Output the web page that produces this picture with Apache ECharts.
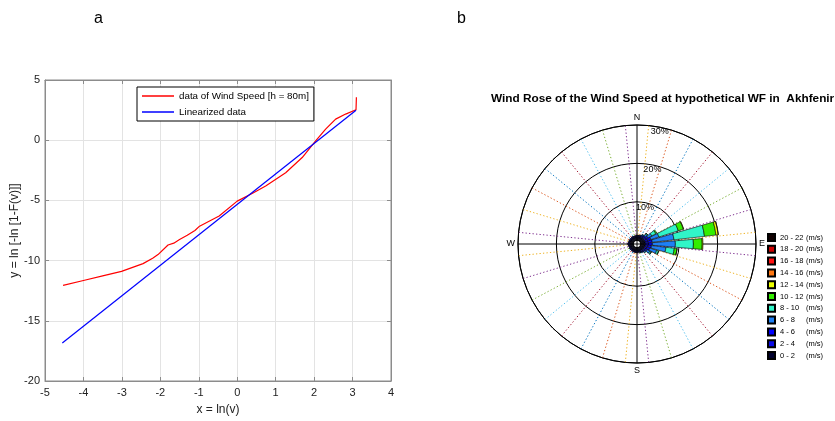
<!DOCTYPE html>
<html><head><meta charset="utf-8">
<script src="https://cdn.jsdelivr.net/npm/echarts@6/dist/echarts.min.js"></script>
<style>html,body{margin:0;padding:0;background:#fff}#c{width:835px;height:421px}</style>
</head><body><div id="c"></div>
<script>
// ---------- Panel a data ----------
const redX = [-4.53, -4.0, -3.5, -3.01, -2.45, -2.2, -2.06, -1.8, -1.65, -1.5, -1.3, -1.1, -0.98, -0.47, 0.0, 0.4, 0.74, 1.26, 1.69, 2.04, 2.3, 2.56, 2.82, 3.09, 3.1];
const redY = [-12.06, -11.65, -11.27, -10.9, -10.25, -9.8, -9.5, -8.7, -8.55, -8.25, -7.9, -7.5, -7.14, -6.3, -5.06, -4.4, -3.8, -2.7, -1.44, -0.05, 0.92, 1.75, 2.17, 2.53, 3.56];
const blueX = [-4.55, 3.09];
const blueY = [-16.84, 2.49];
const lineNames = ['data of Wind Speed [h = 80m]', 'Linearized data'];

// ---------- Panel b data ----------
const directions = ['E','EbN','ENE','NEbE','NE','NEbN','NNE','NbE','N','NbW','NNW','NWbN','NW','NWbW','WNW','WbN',
                    'W','WbS','WSW','SWbW','SW','SWbS','SSW','SbW','S','SbE','SSE','SEbS','SE','SEbE','ESE','EbS'];
const speedBins = ['0 - 2','2 - 4','4 - 6','6 - 8','8 - 10','10 - 12','12 - 14','14 - 16','16 - 18','18 - 20','20 - 22'];
const f0_2   = [1.2,1.2,1.2,1.1,1.1,1.05,1.0,1.0,1.0,0.95,0.95,1.0,1.0,0.95,1.0,1.0,1.05,1.0,0.95,1.0,1.0,0.95,1.0,1.0,1.0,0.95,1.0,1.0,1.05,1.1,1.1,1.2];
const f2_4   = [0.8,0.8,0.7,0.6,0.4,0.3,0.25,0.2,0.2,0.2,0.2,0.2,0.2,0.2,0.2,0.2,0.25,0.2,0.2,0.2,0.2,0.2,0.2,0.2,0.2,0.2,0.25,0.3,0.35,0.45,0.6,0.7];
const f4_6   = [1.0,1.0,0.9,0.6,0.4,0.25,0.1,0.05,0.05,0.05,0.05,0.05,0.05,0.05,0.05,0.05,0.1,0.05,0.05,0.05,0.05,0.05,0.05,0.05,0.05,0.05,0.1,0.2,0.3,0.5,0.8,0.9];
const f6_8   = [6.0,5.7,2.2,1.1,0.45,0.2,0.1,0.05,0,0,0,0,0,0,0,0,0,0,0,0,0,0,0,0,0,0,0.05,0.1,0.25,0.8,1.9,3.8];
const f8_10  = [4.7,8.0,5.3,1.2,0.3,0.1,0,0,0,0,0,0,0,0,0,0,0,0,0,0,0,0,0,0,0,0,0,0,0.15,0.4,0.5,2.2];
const f10_12 = [2.3,3.0,1.4,0.3,0.05,0,0,0,0,0,0,0,0,0,0,0,0,0,0,0,0,0,0,0,0,0,0,0,0,0.05,0.1,0.7];
const f12_14 = [0.2,0.6,0.1,0,0,0,0,0,0,0,0,0,0,0,0,0,0,0,0,0,0,0,0,0,0,0,0,0,0,0,0,0.05];
const f14_16 = [0,0.05,0,0,0,0,0,0,0,0,0,0,0,0,0,0,0,0,0,0,0,0,0,0,0,0,0,0,0,0,0,0];
const f16_18 = new Array(32).fill(0);
const f18_20 = new Array(32).fill(0);
const f20_22 = new Array(32).fill(0);
const freqByBin = [f0_2, f2_4, f4_6, f6_8, f8_10, f10_12, f12_14, f14_16, f16_18, f18_20, f20_22];
const radiusTicks = [0, 10, 20, 30];
const compassLabels = {0: 'E', 90: 'N', 180: 'W', 270: 'S'};

// ---------- styles ----------
const binColors = ['#00002e','#0a0ae6','#0000ff','#1e80f5','#30f5c8','#33ee00','#eeff00','#ff7711','#ff1111','#cc0000','#110000'];
const matlabColors = ['#0072BD','#D95319','#EDB120','#7E2F8E','#77AC30','#4DBEEE','#A2142F'];
const dotColors = [];
for (let i = 0; i < 32; i++) {
  const j = ((i - 1) % 16 + 16) % 16 + 1;
  dotColors.push(matlabColors[(j - 1 + 2) % 7]);
}
const FONT = 'Liberation Sans, Arial, sans-serif';
const CX = 637, CY = 244, R0 = 3.8, R1 = 119;
const AX = '#8c8c8c';

const barSeries = speedBins.map((name, k) => ({
  name: name,
  type: 'bar',
  coordinateSystem: 'polar',
  polarIndex: 0,
  stack: 'rose',
  barCategoryGap: '15%',
  data: freqByBin[k].map(v => v > 0 ? v : null),
  itemStyle: {color: binColors[k], borderColor: '#000', borderWidth: 0.6},
  emphasis: {disabled: true},
  z: 3
}));

const chart = echarts.init(document.getElementById('c'), null, {renderer: 'canvas'});
chart.setOption({
  animation: false,
  textStyle: {fontFamily: FONT},
  title: [
    {text: 'a', left: 89, top: 6, textStyle: {fontSize: 16, fontWeight: 'normal', color: '#000', fontFamily: FONT}},
    {text: 'b', left: 452, top: 6, textStyle: {fontSize: 16, fontWeight: 'normal', color: '#000', fontFamily: FONT}},
    {text: 'Wind Rose of the Wind Speed at hypothetical WF in  Akhfenir', left: 486, top: 88,
     textStyle: {fontSize: 11.8, fontWeight: 'bold', color: '#000', fontFamily: FONT}}
  ],
  legend: [
    {
      data: lineNames, orient: 'vertical', left: 137, top: 87,
      borderColor: '#000', borderWidth: 1, backgroundColor: '#fff',
      padding: [3, 5, 3, 5], itemWidth: 32, itemHeight: 1.5, itemGap: 4, icon: 'rect',
      textStyle: {fontSize: 9.8, color: '#000', fontFamily: FONT, lineHeight: 12},
      selectedMode: false
    },
    {
      data: speedBins.slice().reverse(), orient: 'vertical', left: 767, top: 233, padding: 0,
      itemWidth: 7, itemHeight: 7, itemGap: 2.8, icon: 'rect',
      formatter: n => '{a|' + n + '}{b|(m/s)}',
      textStyle: {fontSize: 7.5, color: '#000', fontFamily: FONT, lineHeight: 8,
        rich: {a: {width: 26, fontSize: 7.5, lineHeight: 8, fontFamily: FONT}, b: {fontSize: 7.5, lineHeight: 8, fontFamily: FONT}}},
      selectedMode: false
    }
  ],
  grid: {left: 45, right: 444, top: 80, bottom: 40, show: true, borderColor: AX, borderWidth: 1, backgroundColor: '#fff'},
  xAxis: [
    {type: 'value', gridIndex: 0, min: -5, max: 4, interval: 1, position: 'bottom',
     name: 'x = ln(v)', nameLocation: 'middle', nameGap: 23,
     nameTextStyle: {fontSize: 12, color: '#222', fontFamily: FONT},
     axisLine: {show: true, onZero: false, lineStyle: {color: AX}},
     axisTick: {inside: true, length: 4, lineStyle: {color: AX}},
     axisLabel: {fontSize: 11, color: '#222', margin: 6, fontFamily: FONT},
     splitLine: {show: true, lineStyle: {color: '#e3e3e3'}}},
    {type: 'value', gridIndex: 0, min: -5, max: 4, interval: 1, position: 'top',
     axisLine: {show: true, onZero: false, lineStyle: {color: AX}},
     axisTick: {inside: true, length: 4, lineStyle: {color: AX}},
     axisLabel: {show: false}, splitLine: {show: false}}
  ],
  yAxis: [
    {type: 'value', gridIndex: 0, min: -20, max: 5, interval: 5, position: 'left',
     name: 'y = ln [-ln [1-F(v)]]', nameLocation: 'middle', nameGap: 23,
     nameTextStyle: {fontSize: 12, color: '#222', fontFamily: FONT},
     axisLine: {show: true, onZero: false, lineStyle: {color: AX}},
     axisTick: {inside: true, length: 4, lineStyle: {color: AX}},
     axisLabel: {fontSize: 11, color: '#222', margin: 5, fontFamily: FONT},
     splitLine: {show: true, lineStyle: {color: '#e3e3e3'}}},
    {type: 'value', gridIndex: 0, min: -20, max: 5, interval: 5, position: 'right',
     axisLine: {show: true, onZero: false, lineStyle: {color: AX}},
     axisTick: {inside: true, length: 4, lineStyle: {color: AX}},
     axisLabel: {show: false}, splitLine: {show: false}}
  ],
  polar: [
    {center: [CX, CY], radius: [R0, R1]},
    {center: [CX, CY], radius: [0, R1]},
    {center: [CX, CY], radius: [R0, R1]}
  ],
  angleAxis: [
    {polarIndex: 0, type: 'category', data: directions, startAngle: 354.375, clockwise: false, boundaryGap: true,
     axisLine: {show: false}, axisTick: {show: false, interval: 0}, axisLabel: {show: false, interval: 0},
     splitLine: {show: true, interval: 0, lineStyle: {color: dotColors, width: 1, type: [1.3, 2.2]}}},
    {polarIndex: 1, type: 'value', min: 0, max: 360, interval: 90, startAngle: 0, clockwise: false,
     axisLine: {show: true, lineStyle: {color: '#000', width: 1}}, axisTick: {show: false},
     axisLabel: {show: true, margin: 3, fontSize: 9, color: '#000', fontFamily: FONT,
                 formatter: v => compassLabels[v] !== undefined ? compassLabels[v] : ''},
     splitLine: {show: true, lineStyle: {color: '#000', width: 1, type: 'solid'}}},
    {polarIndex: 2, type: 'value', min: 0, max: 360, startAngle: 79, clockwise: false, show: false}
  ],
  radiusAxis: [
    {polarIndex: 0, type: 'value', min: radiusTicks[0], max: radiusTicks[radiusTicks.length - 1], interval: 10,
     axisLine: {show: false}, axisTick: {show: false}, axisLabel: {show: false},
     splitLine: {show: true, lineStyle: {color: '#000', width: 1, type: 'solid'}}},
    {polarIndex: 1, type: 'value', min: 0, max: 30, show: false},
    {polarIndex: 2, type: 'value', min: radiusTicks[0], max: radiusTicks[radiusTicks.length - 1], interval: 10,
     axisLine: {show: false}, axisTick: {show: false}, splitLine: {show: false},
     axisLabel: {show: true, showMinLabel: false, margin: 0, align: 'center', verticalAlign: 'top',
                 fontSize: 9, color: '#000', fontFamily: FONT, formatter: '{value}%'}}
  ],
  series: [
    {name: lineNames[0], type: 'line', xAxisIndex: 0, yAxisIndex: 0, symbol: 'none', showSymbol: false,
     data: redX.map((x, i) => [x, redY[i]]), lineStyle: {color: '#ff0000', width: 1.2}, itemStyle: {color: '#ff0000'}, z: 3},
    {name: lineNames[1], type: 'line', xAxisIndex: 0, yAxisIndex: 0, symbol: 'none', showSymbol: false,
     data: blueX.map((x, i) => [x, blueY[i]]), lineStyle: {color: '#0000ff', width: 1.2}, itemStyle: {color: '#0000ff'}, z: 4},
    ...barSeries
  ]
});
</script></body></html>
